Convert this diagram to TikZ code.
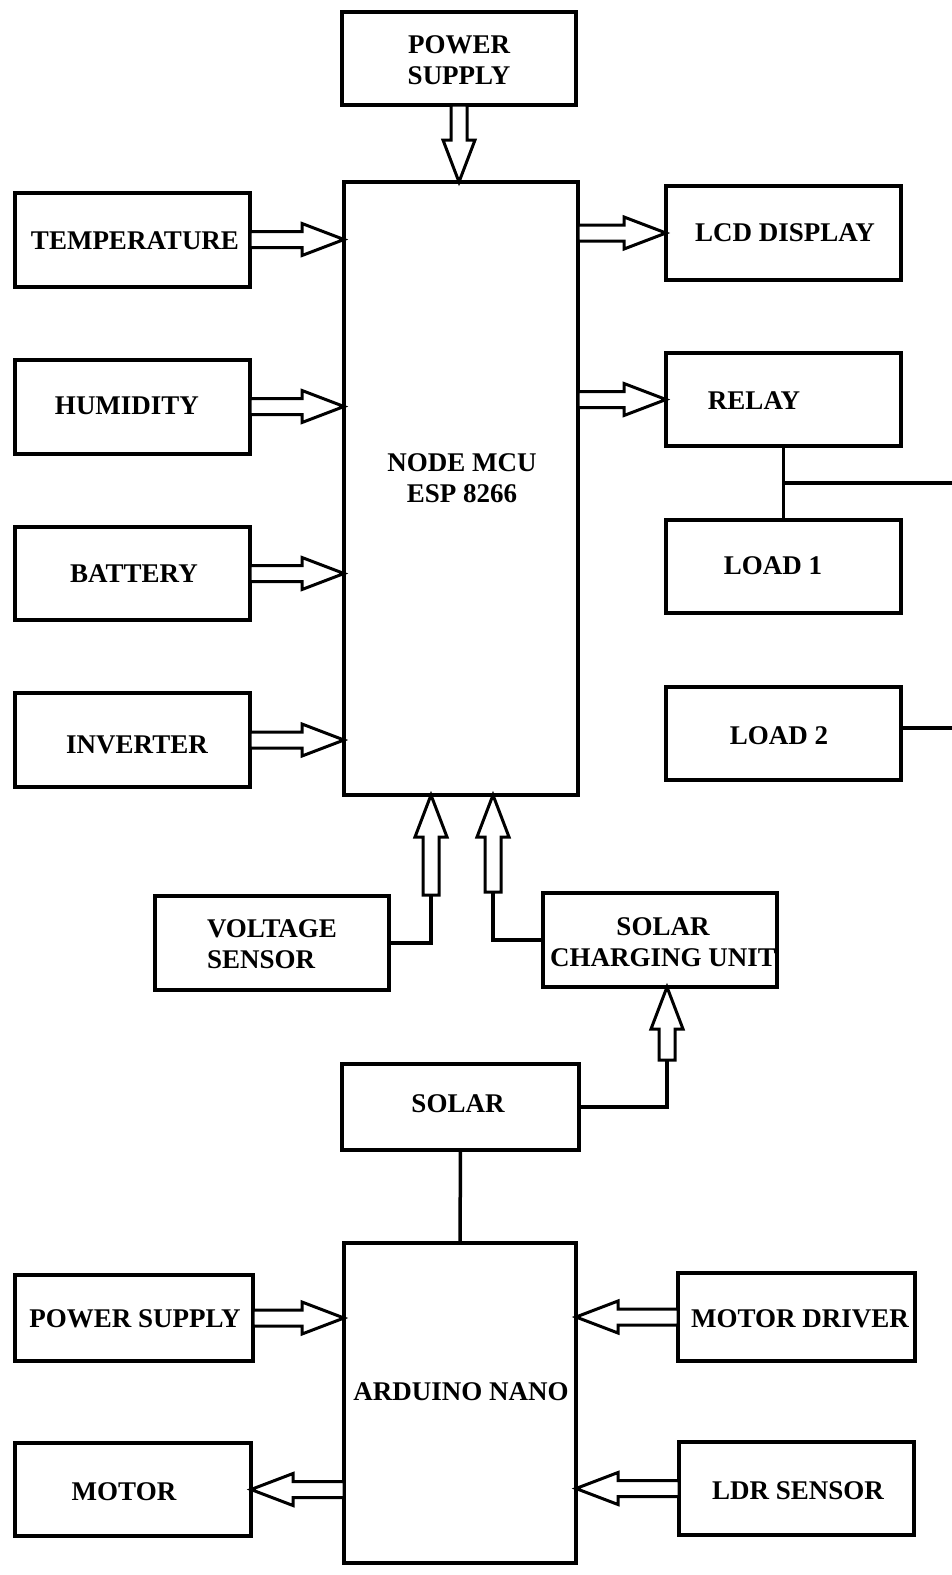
\documentclass[tikz,border=0pt]{standalone}
\usepackage{fontspec}
\setmainfont{Liberation Serif}
\usetikzlibrary{calc}
\tikzset{
  blk/.style={draw, line width=4pt, minimum width=235pt, minimum height=94pt, inner sep=0pt, outer sep=0pt},
  txt/.style={font=\fontsize{27}{31}\selectfont\bfseries, inner sep=0pt, align=center},
  wire/.style={line width=3.5pt},
  fatarr/.style={line width=3pt, fill=white, line join=miter}
}
\newcommand{\fatarrow}[2]{\draw[fatarr] let \p1=($(#2)-(#1)$), \n1={veclen(\x1,\y1)}, \n2={atan2(\y1,\x1)} in
  [shift={(#1)}, rotate=\n2] (0pt,-8pt) -- (\n1-42pt,-8pt) -- (\n1-42pt,-16pt) -- (\n1,0pt)
  -- (\n1-42pt,16pt) -- (\n1-42pt,8pt) -- (0pt,8pt) -- cycle;}

\begin{document}
\begin{tikzpicture}[x=1pt, y=-1pt]
			%%%%% START %%%%%
			\useasboundingbox[fill=white] (0,0) rectangle (952,1575);
			
			% NodeMCU side
			\node[blk, minimum width=234pt, minimum height=93pt] (ps) at (459,58.5) {};
			\node[txt] (ps-t) at (459,60) {POWER\\SUPPLY};
			\node[blk, minimum width=234pt, minimum height=613pt] (mcu) at (461,488.5) {};
			\node[txt] (mcu-t) at (462,478) {NODE MCU\\ESP 8266};
			
			\node[blk] (temp) at (132.5,239.5) {};
			\node[txt] (temp-t) at (135,241) {TEMPERATURE};
			\node[blk] (hum) at (132.5,406.5) {};
			\node[txt] (hum-t) at (127,406) {HUMIDITY};
			\node[blk, minimum height=93pt] (bat) at (132.5,573.5) {};
			\node[txt] (bat-t) at (134,574) {BATTERY};
			\node[blk] (inv) at (132.5,740) {};
			\node[txt] (inv-t) at (137,745) {INVERTER};
			
			\node[blk] (lcd) at (783.5,233) {};
			\node[txt] (lcd-t) at (785,233) {LCD DISPLAY};
			\node[blk, minimum height=93pt] (relay) at (783.5,399.5) {};
			\node[txt] (relay-t) at (754,401) {RELAY};
			\node[blk, minimum height=93pt] (load1) at (783.5,566.5) {};
			\node[txt] (load1-t) at (773,566) {LOAD 1};
			\node[blk, minimum height=93pt] (load2) at (783.5,733.5) {};
			\node[txt] (load2-t) at (779,736) {LOAD 2};
			
			\node[blk, minimum width=234pt] (vs) at (272,943) {};
			\node[txt, align=left] (vs-t) at (272,944.5) {VOLTAGE\\SENSOR};
			\node[blk, minimum width=234pt] (scu) at (660,940) {};
			\node[txt] (scu-t) at (663,942.5) {SOLAR\\CHARGING UNIT};
			
			% Arduino side
			\node[blk, minimum width=237pt, minimum height=86pt] (solar) at (460.5,1107) {};
			\node[txt] (solar-t) at (458,1104) {SOLAR};
			\node[blk, minimum width=232pt, minimum height=320pt] (nano) at (460,1403) {};
			\node[txt] (nano-t) at (461,1392) {ARDUINO NANO};
			
			\node[blk, minimum width=238pt, minimum height=86pt] (ps2) at (134,1318) {};
			\node[txt] (ps2-t) at (135,1319) {POWER SUPPLY};
			\node[blk, minimum width=236pt, minimum height=93pt] (motor) at (133,1489.5) {};
			\node[txt] (motor-t) at (124,1492) {MOTOR};
			\node[blk, minimum width=237pt, minimum height=88pt] (md) at (796.5,1317) {};
			\node[txt] (md-t) at (800,1319) {MOTOR DRIVER};
			\node[blk, minimum height=93pt] (ldr) at (796.5,1488.5) {};
			\node[txt] (ldr-t) at (798,1491) {LDR SENSOR};
			
			% arrows into and out of the NodeMCU
			\fatarrow{ps.south}{ps.south |- mcu.north}
			\fatarrow{temp.east}{temp.east -| mcu.west}
			\fatarrow{hum.east}{hum.east -| mcu.west}
			\fatarrow{bat.east}{bat.east -| mcu.west}
			\fatarrow{inv.east}{inv.east -| mcu.west}
			\fatarrow{mcu.east |- lcd}{lcd.west}
			\fatarrow{mcu.east |- relay}{relay.west}
			
			% relay and loads
			\coordinate (tap) at ($(relay.south)!0.5!(load1.north)$);
			\coordinate (edge1) at (952,484);
			\coordinate (edge2) at (952,728);
			\draw[wire] (relay.south) -- (load1.north);
			\draw[wire] (tap) -- (tap -| edge1);
			\draw[wire] (edge2 -| load2.east) -- (edge2);
			
			% sensor and charger feeds
			\coordinate (vs-in) at (431,895);
			\coordinate (scu-in) at (493,892);
			\coordinate (solar-in) at (667,1060);
			\draw[wire] (vs.east) -| (vs-in);
			\fatarrow{vs-in}{vs-in |- mcu.south}
			\draw[wire] (scu.west) -| (scu-in);
			\fatarrow{scu-in}{scu-in |- mcu.south}
			\draw[wire] (solar.east) -| (solar-in);
			\fatarrow{solar-in}{solar-in |- scu.south}
			\draw[wire] (solar.south) -- (nano.north);
			
			% arrows round the Arduino
			\fatarrow{ps2.east}{ps2.east -| nano.west}
			\fatarrow{md.west}{md.west -| nano.east}
			\fatarrow{ldr.west}{ldr.west -| nano.east}
			\fatarrow{nano.west |- motor}{motor.east}
			%%%%% END %%%%%
\end{tikzpicture}
\end{document}
